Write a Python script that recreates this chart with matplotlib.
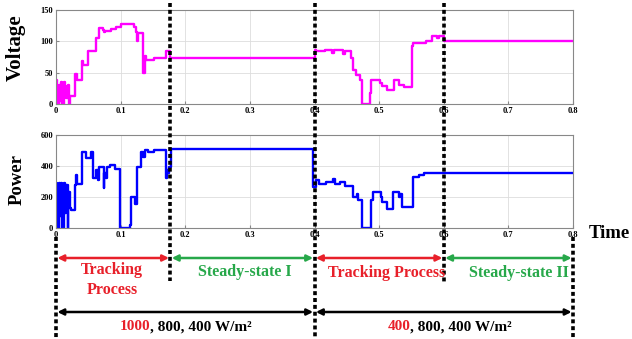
import numpy as np
import matplotlib
matplotlib.use("Agg")
import matplotlib.pyplot as plt

plt.rcParams['font.family'] = ['Liberation Serif', 'DejaVu Serif']
plt.rcParams['font.weight'] = 'bold'

# voltage trace (step breakpoints)
v_t = [0.000, 0.002, 0.004, 0.006, 0.008, 0.010, 0.012, 0.014, 0.016, 0.018,
       0.020, 0.022, 0.029, 0.030, 0.032, 0.041, 0.042, 0.050, 0.062, 0.067,
       0.072, 0.074, 0.076, 0.085, 0.093, 0.101, 0.121, 0.124, 0.126, 0.127,
       0.135, 0.137, 0.140, 0.152, 0.170, 0.177, 0.400, 0.402, 0.417, 0.427,
       0.430, 0.444, 0.447, 0.457, 0.460, 0.464, 0.470, 0.473, 0.486, 0.488,
       0.502, 0.505, 0.512, 0.523, 0.530, 0.538, 0.551, 0.553, 0.563, 0.573,
       0.582, 0.590, 0.593, 0.600, 0.800]
v_val = [38, 0, 30, 5, 35, 0, 35, 28, 10, 30,
         0, 12, 33, 48, 38, 68, 62, 84, 105, 122,
         118, 115, 117, 120, 123, 127, 123, 115, 100, 113,
         50, 76, 70, 73, 84, 74, 86, 84, 86, 81,
         86, 80, 84, 73, 55, 47, 39, 0, 17, 39,
         33, 28, 23, 39, 31, 27, 92, 97, 98, 101,
         108, 105, 108, 101, 101]

# power trace (step breakpoints)
p_t = [0.000, 0.001, 0.005, 0.006, 0.008, 0.010, 0.012, 0.014, 0.016, 0.018,
       0.019, 0.021, 0.023, 0.030, 0.031, 0.033, 0.040, 0.046, 0.054, 0.057,
       0.062, 0.065, 0.067, 0.074, 0.075, 0.077, 0.079, 0.083, 0.091, 0.099,
       0.114, 0.116, 0.122, 0.125, 0.132, 0.135, 0.137, 0.142, 0.151, 0.170,
       0.171, 0.173, 0.175, 0.178, 0.398, 0.402, 0.407, 0.418, 0.429, 0.431,
       0.440, 0.447, 0.460, 0.466, 0.468, 0.474, 0.488, 0.490, 0.503, 0.505,
       0.512, 0.522, 0.530, 0.532, 0.536, 0.552, 0.561, 0.570, 0.800]
p_val = [290, 0, 290, 80, 290, 0, 290, 100, 280, 0,
         230, 130, 115, 276, 341, 287, 492, 449, 492, 320,
         373, 309, 395, 255, 352, 320, 395, 405, 378, 0,
         17, 200, 158, 395, 492, 460, 503, 492, 503, 320,
         373, 352, 395, 507, 265, 309, 287, 295, 313, 287,
         300, 270, 200, 222, 179, 0, 179, 233, 200, 168,
         125, 233, 200, 222, 136, 330, 341, 352, 352]

x_ticks = [0, 0.1, 0.2, 0.3, 0.4, 0.5, 0.6, 0.7, 0.8]
x_labels = ['0', '0.1', '0.2', '0.3', '0.4', '0.5', '0.6', '0.7', '0.8']
v_ticks = [0, 50, 100, 150]
p_ticks = [0, 200, 400, 600]

phase_bounds = [0, 0.177, 0.4, 0.6, 0.8]
phase_names = ['Tracking\nProcess', 'Steady-state I', 'Tracking Process', 'Steady-state II']
phase_colors = ['#e8202a', '#27a84a', '#e8202a', '#27a84a']
irr_first = ['1000', '400']

W, H = 632, 339
fig = plt.figure(figsize=(W / 100, H / 100), dpi=100)
x0, x1 = 56, 573


def add_ax(top, bottom):
    return fig.add_axes([x0 / W, (H - bottom) / H, (x1 - x0) / W, (bottom - top) / H])


def style(ax, yt):
    ax.set_xlim(0, 0.8)
    ax.set_xticks(x_ticks)
    ax.set_xticklabels(x_labels)
    ax.set_yticks(yt)
    ax.set_ylim(yt[0], yt[-1])
    ax.grid(True, color='#dddddd', lw=0.6)
    ax.tick_params(direction='in', length=2, labelsize=6, pad=2, color='#888888')
    for s in ax.spines.values():
        s.set_color('#888888')
        s.set_linewidth(0.8)


ax1 = add_ax(10, 104)
ax1.plot(v_t, v_val, drawstyle='steps-post', color='#ff00ff', lw=1.7)
style(ax1, v_ticks)
ax1.set_ylabel('Voltage', fontsize=15, fontweight='bold')
ax1.yaxis.set_label_coords(-0.058, 0.6)

ax2 = add_ax(135, 228)
ax2.plot(p_t, p_val, drawstyle='steps-post', color='#0000ff', lw=1.7)
style(ax2, p_ticks)
ax2.set_ylabel('Power', fontsize=13.5, fontweight='bold')
ax2.yaxis.set_label_coords(-0.058, 0.52)

fig.text(589 / W, 1 - 234 / H, 'Time', fontsize=13.5, fontweight='bold', va='center')

# overlay in time / pixel coordinates
ov = fig.add_axes([x0 / W, 0, (x1 - x0) / W, 1])
ov.set_xlim(0, 0.8)
ov.set_ylim(H, 0)
ov.axis('off')
ov.patch.set_alpha(0)

vlines = [(0, 237, 339), (0.177, 3, 281), (0.4, 3, 339), (0.6, 3, 283), (0.8, 237, 339)]
for t, ya, yb in vlines:
    ov.plot([t, t], [ya, yb], color='black', lw=2.6, dashes=(1.1, 0.8), clip_on=False)

for i in range(4):
    ov.annotate('', xy=(phase_bounds[i], 258), xytext=(phase_bounds[i + 1], 258),
                arrowprops=dict(arrowstyle='<|-|>', color=phase_colors[i], lw=1.8,
                                mutation_scale=9, shrinkA=1, shrinkB=1))

for t in [0.0, 0.4]:
    ov.annotate('', xy=(t, 312), xytext=(t + 0.4, 312),
                arrowprops=dict(arrowstyle='<|-|>', color='black', lw=1.8,
                                mutation_scale=9, shrinkA=1, shrinkB=1))

text_pos = [(0.087, 280), (0.292, 272), (0.511, 273), (0.717, 273)]
for (tx, ty), name, c in zip(text_pos, phase_names, phase_colors):
    ov.text(tx, ty, name, color=c, fontsize=11.5, fontweight='bold',
            ha='center', va='center', linespacing=1.25)

for tx, first in zip([0.146, 0.548], irr_first):
    ov.text(tx, 327, first, color='#e8202a', fontsize=11, fontweight='bold', ha='right', va='center')
    ov.text(tx, 327, ', 800, 400 W/m²', color='black', fontsize=11, fontweight='bold', ha='left', va='center')

fig.savefig('out.png', dpi=100)
